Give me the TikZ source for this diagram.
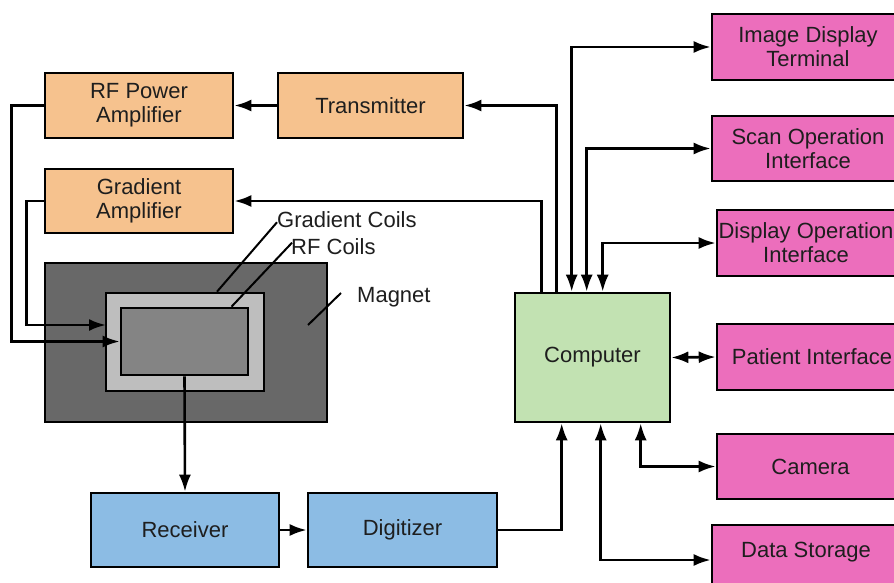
\documentclass[tikz,border=0pt]{standalone}
\usepackage{fontspec}
\setmainfont{Liberation Sans}
\usetikzlibrary{arrows.meta}
\definecolor{orng}{RGB}{246,194,142}
\definecolor{pnk}{RGB}{236,110,188}
\definecolor{grn}{RGB}{194,226,178}
\definecolor{blu}{RGB}{140,188,228}
\definecolor{magg}{RGB}{104,104,104}
\definecolor{gcg}{RGB}{190,190,190}
\definecolor{rfg}{RGB}{132,132,132}
\definecolor{txt}{RGB}{30,30,30}
\begin{document}
\begin{tikzpicture}[x=1pt,y=-1pt,
  every node/.style={font=\fontsize{22}{24}\selectfont, align=center, text=txt},
  blk/.style={draw=black, line width=2.6pt, inner sep=0pt},
  obox/.style={blk, fill=orng},
  pbox/.style={blk, fill=pnk},
  bbox/.style={blk, fill=blu},
  arr/.style={line width=2.6pt, -{Latex[length=17pt,width=12pt]}},
  darr/.style={line width=2.6pt, {Latex[length=17pt,width=12pt]}-{Latex[length=17pt,width=12pt]}},
  lead/.style={line width=2pt}]
\useasboundingbox (0,0) rectangle (894,583);
\clip (0,0) rectangle (894,583);
\fill[white] (0,0) rectangle (894,583);
% left side boxes
\node[obox, minimum width=188pt, minimum height=65pt] (rfamp) at (139,105.5) {RF Power\\Amplifier};
\node[obox, minimum width=185pt, minimum height=65pt] (trans) at (370.5,105.5) {Transmitter};
\node[obox, minimum width=188pt, minimum height=64pt] (gradamp) at (139,201) {Gradient\\Amplifier};
\node[blk, fill=magg, minimum width=282pt, minimum height=159pt] (magnet) at (186,342.5) {};
\node[blk, fill=gcg, minimum width=158pt, minimum height=98pt] (gcoil) at (185,342) {};
\node[blk, fill=rfg, minimum width=127pt, minimum height=67pt] (rfcoil) at (184.5,341.5) {};
\node[anchor=west, inner sep=0pt] (gclabel) at (277,220) {Gradient Coils};
\node[anchor=west, inner sep=0pt] (rflabel) at (291,247) {RF Coils};
\node[anchor=west, inner sep=0pt] (maglabel) at (357,297) {Magnet};
\node[bbox, minimum width=188pt, minimum height=74pt] (receiver) at (185,530) {Receiver};
\node[bbox, minimum width=189pt, minimum height=74pt] (digitizer) at (402.5,530) {Digitizer};
% computer
\node[blk, fill=grn, minimum width=155pt, minimum height=129pt] (computer) at (592.5,357.5) {Computer};
% pink boxes
\node[pbox, minimum width=192pt, minimum height=66pt] (idt) at (808,47) {Image Display\\Terminal};
\node[pbox, minimum width=192pt, minimum height=65pt] (scan) at (808,148.5) {Scan Operation\\Interface};
\node[pbox, minimum width=187pt, minimum height=66pt] (dispop) at (810.5,243) {};
\node[inner sep=0pt] (dispoplabel) at (806,243) {Display Operation\\Interface};
\node[pbox, minimum width=187pt, minimum height=66pt] (patient) at (810.5,357) {};
\node[inner sep=0pt] (patientlabel) at (812,357) {Patient Interface};
\node[pbox, minimum width=187pt, minimum height=65pt] (camera) at (810.5,466.5) {Camera};
\node[pbox, minimum width=192pt, minimum height=70pt] (dstore) at (808,560) {};
\node[inner sep=0pt] (dslabel) at (806,552) {Data Storage};
% coordinates
\coordinate (gin) at (106,325);
% connectors left
\draw[arr] (trans.west) -- (rfamp.east);
\draw[arr] ([xshift=43pt]computer.north west) |- (trans.east);
\draw[arr] ([xshift=28pt]computer.north west) |- (gradamp.east);
\draw[arr] (rfamp.west) -- ++(-32,0) |- (rfcoil.west);
\draw[arr] (gradamp.west) -- ++(-17,0) |- (gin);
\draw[arr] (rfcoil.south) -- (receiver.north);
\draw[arr] (receiver.east) -- (digitizer.west);
\draw[arr] (digitizer.east) -| ([xshift=48pt]computer.south west);
% leader lines
\draw[lead] ([xshift=32pt]gcoil.north) -- ([yshift=6pt]gclabel.south west);
\draw[lead] ([xshift=47pt]rfcoil.north) -- ([xshift=1pt,yshift=-4pt]rflabel.north west);
\draw[lead] (308,325) -- (341,293);
% right connectors
\draw[darr] ([xshift=58pt]computer.north west) |- (idt.west);
\draw[darr] ([xshift=73pt]computer.north west) |- (scan.west);
\draw[darr] ([xshift=89pt]computer.north west) |- (dispop.west);
\draw[darr] (computer.east) -- (patient.west);
\draw[darr] ([xshift=127pt]computer.south west) |- (camera.west);
\draw[darr] ([xshift=87pt]computer.south west) |- ([yshift=0pt]dstore.west);
\end{tikzpicture}
\end{document}
